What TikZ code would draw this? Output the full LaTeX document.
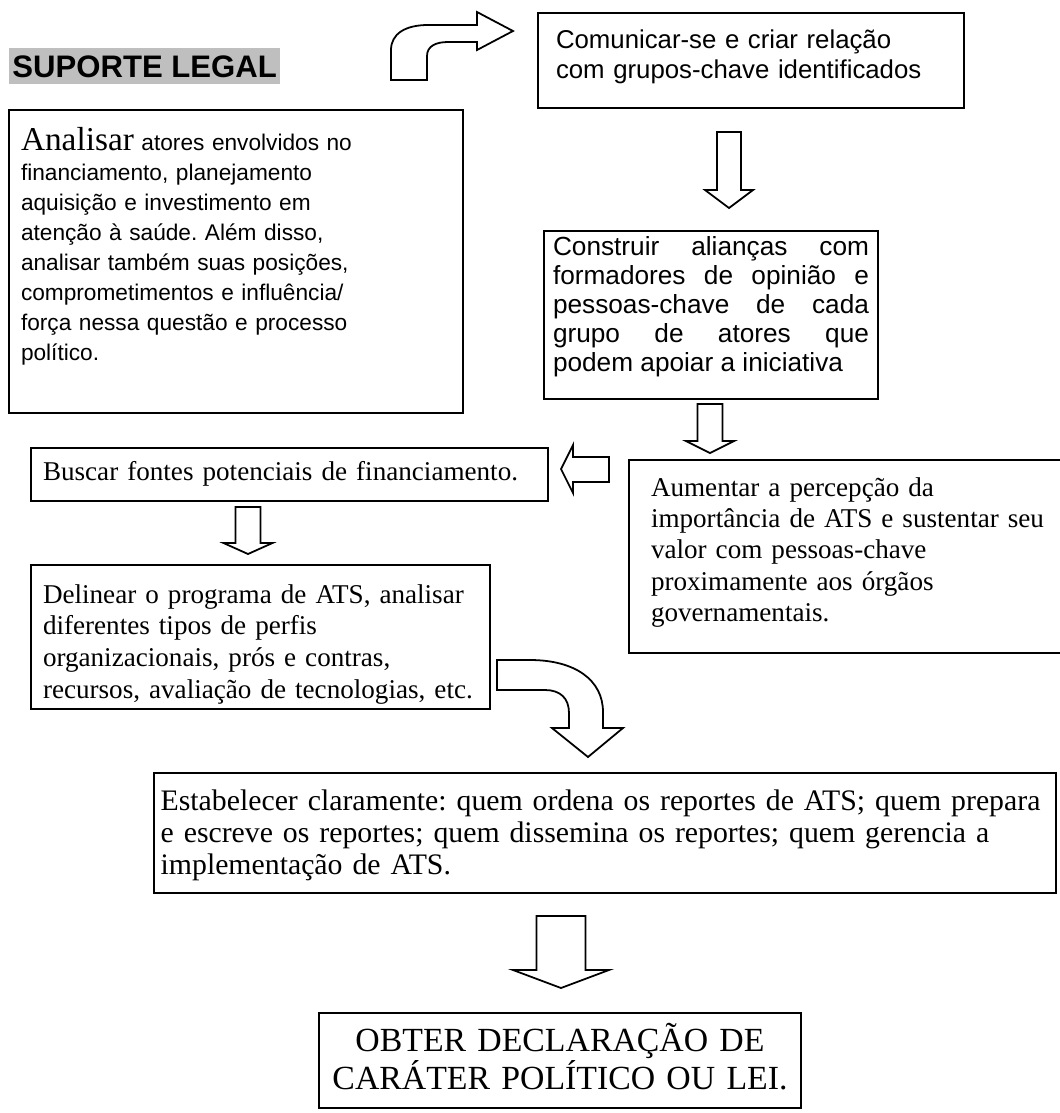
\documentclass[tikz,border=0pt]{standalone}
\usepackage{fontspec}
\setmainfont{Liberation Serif}
\setsansfont{Liberation Sans}
\usetikzlibrary{positioning}
\frenchspacing

\tikzset{
  box/.style={draw, line width=0.9pt, anchor=north west, inner ysep=0pt, align=left},
  arial/.style={font=\sffamily\fontsize{#1}{13.5}\selectfont},
  times/.style={font=\rmfamily\fontsize{#1}{14.1}\selectfont},
  blockarrow/.style={draw, fill=white, line width=0.8pt, line join=miter},
}

\begin{document}
\begin{tikzpicture}[x=0.45pt, y=-0.45pt]
\useasboundingbox (0,0) rectangle (1060,1113);
\clip (0,0) rectangle (1060,1113);

% titulo
\node[fill=black!25, anchor=north west, inner xsep=1.35pt, inner ysep=0pt, text height=13.05pt, text depth=3.15pt,
      font=\sffamily\bfseries\fontsize{14}{16}\selectfont] (suporte) at (9,48) {SUPORTE LEGAL};

% caixas
\node[box, arial=11.6, inner xsep=8.1pt, text width=175.5pt, text height=15.75pt, text depth=27pt] (comunicar) at (537,12)
  {Comunicar-se e criar relação\\com grupos-chave identificados};
\node[box, arial=10.2, inner xsep=5.4pt, text width=193.5pt, text height=18pt, text depth=118.35pt] (atores) at (8,109)
  {{\rmfamily\fontsize{15}{13.5}\selectfont Analisar} atores envolvidos no\\
   financiamento, planejamento\\
   aquisição e investimento em\\
   atenção à saúde. Além disso,\\
   analisar também suas posições,\\
   comprometimentos e influência/\\
   força nessa questão e processo\\
   político.};
\node[box, font=\sffamily\fontsize{11.8}{13.05}\selectfont, align=justify, inner xsep=4.05pt, text width=142.2pt,
      text height=10.8pt, text depth=64.8pt] (aliancas) at (543,230)
  {Construir alianças com\linebreak formadores de opinião e\linebreak pessoas-chave de cada\linebreak grupo de atores que\linebreak podem apoiar a iniciativa};
\node[box, times=12.2, inner xsep=5.4pt, text width=221.85pt, text height=14.4pt, text depth=9.45pt] (fontes) at (30,447)
  {Buscar fontes potenciais de financiamento.};
\node[box, times=12.2, inner xsep=9.9pt, text width=178.2pt, text height=16.2pt, text depth=70.65pt] (percepcao) at (628,459)
  {Aumentar a percepção da\\
   importância de ATS e sustentar seu\\
   valor com pessoas-chave\\
   proximamente aos órgãos\\
   governamentais.};
\node[box, font=\rmfamily\fontsize{12.2}{14.3}\selectfont, inner xsep=5.4pt, text width=195.75pt, text height=17.1pt, text depth=47.7pt] (delinear) at (30,564)
  {Delinear o programa de ATS, analisar\\
   diferentes tipos de perfis\\
   organizacionais, prós e contras,\\
   recursos, avaliação de tecnologias, etc.};
\node[box, font=\rmfamily\fontsize{13.4}{14.4}\selectfont, inner xsep=3pt, text width=399.9pt, text height=16.65pt, text depth=37.35pt] (estabelecer) at (153,772)
  {Estabelecer claramente: quem ordena os reportes de ATS; quem prepara\\
   e escreve os reportes; quem dissemina os reportes; quem gerencia a\\
   implementação de ATS.};
\node[box, align=center, font=\rmfamily\fontsize{15.2}{15.75}\selectfont, inner xsep=4.5pt, text width=207.9pt, text height=17.1pt, text depth=25.65pt] (obter) at (318,1012)
  {OBTER DECLARAÇÃO DE\\CARÁTER POLÍTICO OU LEI.};

% setas
\draw[blockarrow] (391,80) -- (391,50) .. controls (391,34) and (405,25) .. (428,25) -- (477,25) -- (477,12) -- (513,31)
  -- (477,50) -- (477,42) -- (448,42) .. controls (436,42) and (427,46) .. (427,56) -- (427,80) -- cycle;
\foreach \cx/\ytop/\ybase/\ytip/\sw/\hw in {729/132/190/208/12/24, 710/404/441/453/12.5/24, 248/507/543/554/12.5/24.5, 561/916/970/988/24.5/48}
  \draw[blockarrow] (\cx-\sw,\ytop) -- (\cx+\sw,\ytop) -- (\cx+\sw,\ybase) -- (\cx+\hw,\ybase) -- (\cx,\ytip)
    -- (\cx-\hw,\ybase) -- (\cx-\sw,\ybase) -- cycle;
\draw[blockarrow] (609,457) -- (609,482) -- (573,482) -- (573,493) -- (561,469) -- (573,445) -- (573,457) -- cycle;
\draw[blockarrow] (497,660) -- (530,660) .. controls (575,660) and (603,680) .. (603,712) -- (603,728) -- (623,728)
  -- (588,757) -- (552,728) -- (569,728) -- (569,713) .. controls (569,698) and (560,690) .. (545,690) -- (497,690) -- cycle;
\end{tikzpicture}
\end{document}
